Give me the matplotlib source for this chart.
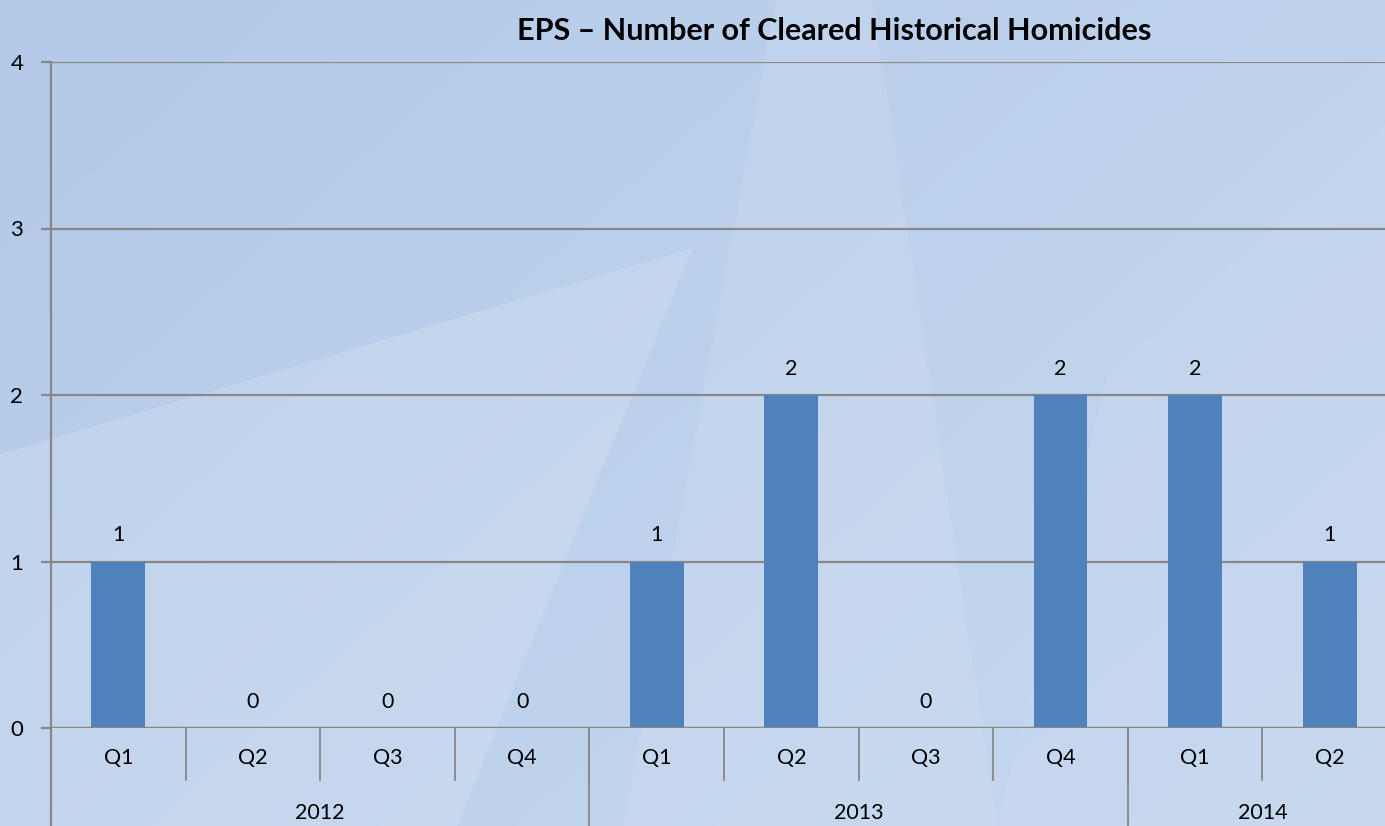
import numpy as np
import matplotlib.pyplot as plt
from matplotlib.patches import Polygon

plt.rcParams['font.family'] = ['Lato', 'DejaVu Sans']

quarters = ['Q1', 'Q2', 'Q3', 'Q4', 'Q1', 'Q2', 'Q3', 'Q4', 'Q1', 'Q2']
years = ['2012', '2013', '2014']
year_sizes = [4, 4, 2]
cleared = [1, 0, 0, 0, 1, 2, 0, 2, 2, 1]

W, H = 1385, 826
fig = plt.figure(figsize=(W / 100, H / 100), dpi=100)

# background: soft blue gradient with a few lighter facets
bg = fig.add_axes([0, 0, 1, 1], zorder=-10)
yy, xx = np.mgrid[0:1:200j, 0:1:300j]
t = np.clip(0.6 * xx + 0.4 * (1 - yy), 0, 1)
c0 = np.array([0.70, 0.79, 0.91])
c1 = np.array([0.78, 0.85, 0.94])
img = c0[None, None, :] * (1 - t[..., None]) + c1[None, None, :] * t[..., None]
bg.imshow(img, extent=[0, 1, 0, 1], aspect='auto', origin='lower')
facets = [
    ([(0.0, 0.0), (0.33, 0.0), (0.5, 0.7), (0.0, 0.45)], '#d6e2f3', 0.35),
    ([(0.45, 0.0), (0.72, 0.0), (0.63, 1.0), (0.56, 1.0)], '#d3dff1', 0.3),
    ([(0.72, 0.0), (1.0, 0.0), (1.0, 0.85), (0.8, 0.55)], '#cbd9ee', 0.3),
]
for pts, col, a in facets:
    bg.add_patch(Polygon(pts, closed=True, color=col, alpha=a, lw=0))
bg.set_xlim(0, 1)
bg.set_ylim(0, 1)
bg.axis('off')

x0, x1 = 51, 1397
y0, y1 = 728, 62
ax = fig.add_axes([x0 / W, 1 - y0 / H, (x1 - x0) / W, (y0 - y1) / H])
ax.patch.set_alpha(0)

x = np.arange(len(cleared))
ax.bar(x, cleared, width=0.4, color='#4f81bd', zorder=3)
for xi, v in zip(x, cleared):
    ax.annotate(str(v), (xi, v), xytext=(0, 19), textcoords='offset points',
                ha='center', va='center', fontsize=15.5, color='black')

ax.set_xlim(-0.5, len(cleared) - 0.5)
ax.set_ylim(0, 4)
ax.set_yticks([0, 1, 2, 3, 4])
ax.grid(axis='y', color='#878787', lw=1.6, zorder=1)
for s in ['top', 'right', 'bottom']:
    ax.spines[s].set_visible(False)
ax.spines['left'].set_color('#878787')
ax.spines['left'].set_linewidth(1.6)
ax.tick_params(axis='y', length=7, width=1.6, color='#878787', labelsize=16, pad=13)
ax.set_xticks([])
ax.axhline(0, color='#878787', lw=1.6, zorder=4)

# multi-level category axis
lab_y = -0.18
for xi, q in zip(x, quarters):
    ax.text(xi, lab_y, q, ha='center', va='center', fontsize=15.5, clip_on=False)
for b in range(1, len(quarters)):
    ax.plot([b - 0.5, b - 0.5], [0, -0.31], color='#878787', lw=1.3, clip_on=False)
start = 0
ax.plot([-0.5, -0.5], [0, -0.6], color='#878787', lw=1.6, clip_on=False)
for yr, n in zip(years, year_sizes):
    end = start + n
    ax.text((start + end - 1) / 2, -0.51, yr, ha='center', va='center',
            fontsize=15.5, clip_on=False)
    if end < len(quarters):
        ax.plot([end - 0.5, end - 0.5], [0, -0.6], color='#878787', lw=1.3,
                clip_on=False)
    start = end

fig.text(0.602, 0.963, 'EPS – Number of Cleared Historical Homicides',
         ha='center', va='center', fontsize=22, fontweight='bold')

fig.savefig('out.png', dpi=100)
